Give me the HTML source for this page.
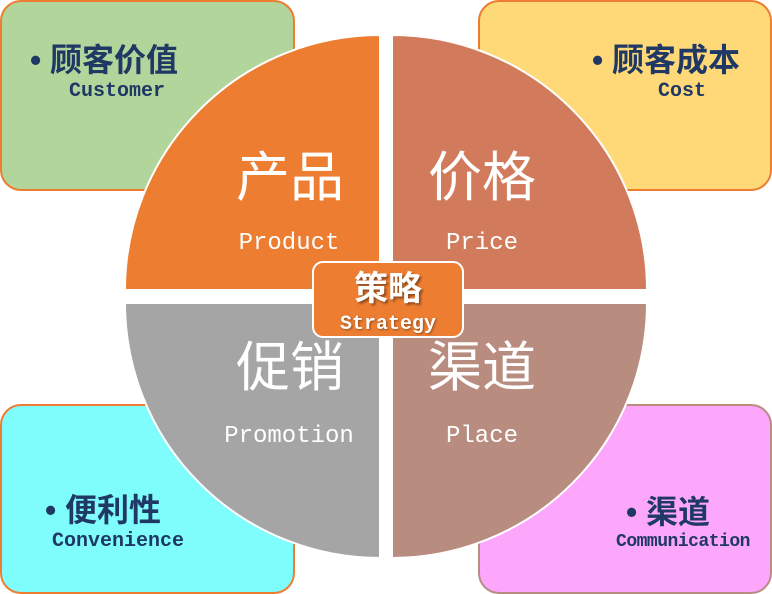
<!DOCTYPE html>
<html><head><meta charset="utf-8"><style>
body{margin:0;width:772px;height:594px;position:relative;overflow:hidden;background:#fff;font-family:"Liberation Sans","Noto Sans CJK SC",sans-serif}
.t{position:absolute;white-space:nowrap;line-height:1;transform:translate(-50%,-50%)}
.cn{font-family:"Liberation Sans","Noto Sans CJK SC",sans-serif}
.mono{font-family:"Liberation Mono","Noto Sans CJK SC",monospace}
.dk{color:#1F3864;font-weight:bold}
.w{color:#fff}
</style></head><body>
<svg width="772" height="594" style="position:absolute;left:0;top:0">
<rect x="1" y="1" width="293" height="189" rx="20" fill="#B1D59A" stroke="#ED7D31" stroke-width="2"/>
<rect x="479" y="1" width="292" height="189" rx="20" fill="#FFD978" stroke="#ED7D31" stroke-width="2"/>
<rect x="1" y="405" width="293" height="188" rx="20" fill="#7FFDFD" stroke="#ED7D31" stroke-width="2"/>
<rect x="479" y="405" width="292" height="188" rx="20" fill="#FCA6FC" stroke="#B98C80" stroke-width="2"/>
<path d="M380,290 L125,290 A255,255 0 0 1 380,35 Z" fill="#ED7D31" stroke="#fff" stroke-width="2"/>
<path d="M392,290 L392,35 A255,255 0 0 1 647,290 Z" fill="#D27B5C" stroke="#fff" stroke-width="2"/>
<path d="M380,303 L380,558 A255,255 0 0 1 125,303 Z" fill="#A5A5A5" stroke="#fff" stroke-width="2"/>
<path d="M392,303 L647,303 A255,255 0 0 1 392,558 Z" fill="#B98C80" stroke="#fff" stroke-width="2"/>
<rect x="313" y="262" width="150" height="75" rx="10" fill="#ED7D31" stroke="#fff" stroke-width="2"/>
</svg>
<div class="t cn dk" style="left:104px;top:60px;font-size:32px">•&nbsp;顾客价值</div>
<div class="t mono dk" style="left:117px;top:92px;font-size:20px">Customer</div>
<div class="t cn dk" style="left:666px;top:60px;font-size:32px">•&nbsp;顾客成本</div>
<div class="t mono dk" style="left:682px;top:92px;font-size:20px">Cost</div>
<div class="t cn dk" style="left:103px;top:510px;font-size:32px">•&nbsp;便利性</div>
<div class="t mono dk" style="left:118px;top:542px;font-size:20px">Convenience</div>
<div class="t cn dk" style="left:668px;top:512px;font-size:32px">•&nbsp;渠道</div>
<div class="t mono dk" style="left:683px;top:542px;font-size:18px;letter-spacing:-0.5px">Communication</div>
<div class="t cn w" style="left:290px;top:178px;font-size:54px">产品</div>
<div class="t cn w" style="left:482px;top:178px;font-size:54px">价格</div>
<div class="t cn w" style="left:290px;top:368px;font-size:54px">促销</div>
<div class="t cn w" style="left:482px;top:368px;font-size:54px">渠道</div>
<div class="t mono w" style="left:289px;top:244px;font-size:24px">Product</div>
<div class="t mono w" style="left:482px;top:244px;font-size:24px">Price</div>
<div class="t mono w" style="left:289px;top:437px;font-size:24px">Promotion</div>
<div class="t mono w" style="left:482px;top:437px;font-size:24px">Place</div>
<div class="t cn w" style="left:388px;top:289px;font-size:34px;font-weight:bold;text-shadow:2px 2px 2px rgba(0,0,0,.4)">策略</div>
<div class="t mono w" style="left:388px;top:325px;font-size:20px;font-weight:bold;text-shadow:1px 1px 2px rgba(0,0,0,.4)">Strategy</div>
</body></html>
